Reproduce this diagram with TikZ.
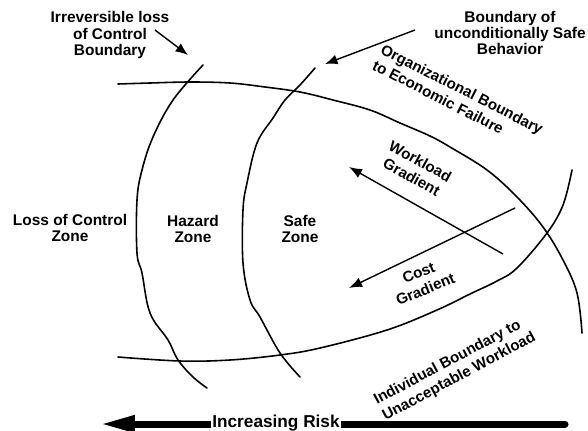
\documentclass[tikz,border=0pt]{standalone}
\usepackage{fontspec}
\setmainfont{Liberation Sans}
\usetikzlibrary{arrows.meta}
\begin{document}
\begin{tikzpicture}[x=0.02cm,y=-0.02cm,
  lbl/.style={font=\bfseries\fontsize{8.8}{9.2}\selectfont, align=center, inner sep=0pt},
  rlbl/.style={font=\bfseries\fontsize{8.6}{10.2}\selectfont, align=center, inner sep=0pt},
  rlbll/.style={font=\bfseries\fontsize{8.6}{10.2}\selectfont, align=left, inner sep=0pt},
  bnd/.style={line width=0.9pt, line join=round, line cap=round},
  ptr/.style={line width=0.8pt, -{Latex[length=0.25cm,width=0.2cm]}},
  grad/.style={line width=0.8pt, -{Latex[length=0.26cm,width=0.2cm]}},
  risk/.style={line width=0.14cm, line cap=round, -{Triangle[length=0.7cm,width=0.32cm]}}]
\useasboundingbox (0,0) rectangle (588,430);

% boundaries
\draw[bnd] plot[smooth, tension=0.6] coordinates {(118,84) (150,83) (190,82) (230,83) (265,87) (300,92) (333,100) (370,110) (400,123) (430,136) (450,147) (487,170) (517,197) (543,227) (563,260) (577,293) (582,333)};
\draw[bnd] plot[smooth, tension=0.6] coordinates {(118,357) (180,361) (230,360) (280,355) (320,348) (387,330) (437,310) (470,294) (497,281) (517,268) (547,233) (563,205) (572,170)};
\draw[bnd] plot[smooth, tension=0.6] coordinates {(203,65) (173,100) (153,137) (142,170) (137,200) (137,253) (142,273) (150,313) (168,340) (178,360) (193,377) (207,388)};
\draw[bnd] plot[smooth, tension=0.6] coordinates {(315,68) (300,85) (285,100) (273,118) (257,143) (247,183) (243,210) (243,263) (250,300) (260,317) (280,353) (300,377)};

% zone labels
\node[lbl] (loss) at (70,228) {Loss of Control\\Zone};
\node[lbl] (hazard) at (193,229) {Hazard\\Zone};
\node[lbl] (safe) at (300,229) {Safe\\Zone};

% top labels
\node[lbl] (irr) at (110,35) {Irreversible loss\\of Control\\Boundary};
\node[lbl] (ucs) at (510,33) {Boundary of\\unconditionally Safe\\Behavior};
\coordinate (irrA) at (155,30);
\coordinate (irrB) at (188,55);
\coordinate (ucsA) at (415,30);
\coordinate (ucsB) at (325,64);
\draw[ptr] (irrA) -- (irrB);
\draw[ptr] (ucsA) -- (ucsB);

% rotated boundary labels
\node[rlbll, rotate=-27] (org) at (458,97) {Organizational Boundary\\to Economic Failure};
\node[rlbll, rotate=28] (ind) at (455,369) {Individual Boundary to\\Unacceptable Workload};

% gradients
\coordinate (wlA) at (503,254);
\coordinate (wlB) at (349,167);
\coordinate (cgA) at (515,208);
\coordinate (cgB) at (349,288);
\draw[grad] (wlA) -- (wlB);
\draw[grad] (cgA) -- (cgB);
\node[rlbl, rotate=-29] (wl) at (416,169) {Workload\\Gradient};
\node[rlbl, rotate=22] (cg) at (422,281) {Cost\\Gradient};

% increasing risk arrow
\coordinate (rA) at (565,424);
\coordinate (rB) at (100,424);
\draw[risk] (rA) -- (rB);
\node[font=\bfseries\fontsize{9.8}{10}\selectfont, fill=white, inner xsep=1pt, inner ysep=1pt] (inc) at (276,423) {Increasing Risk};
\end{tikzpicture}
\end{document}
